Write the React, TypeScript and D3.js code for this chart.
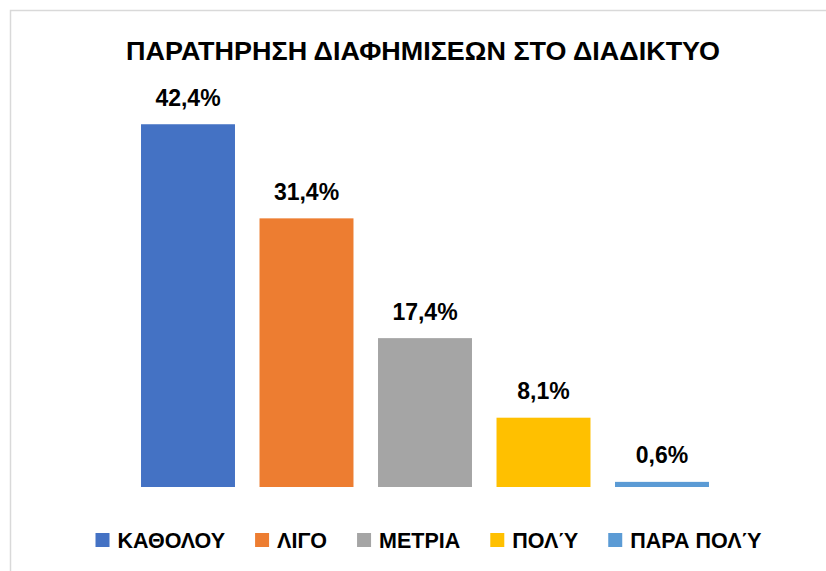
import React, { useEffect, useRef } from "react";
import * as d3 from "d3";

const categories = ["ΚΑΘΟΛΟΥ", "ΛΙΓΟ", "ΜΕΤΡΙΑ", "ΠΟΛΎ", "ΠΑΡΑ ΠΟΛΎ"];
const values = [42.4, 31.4, 17.4, 8.1, 0.6];
const valueLabels = ["42,4%", "31,4%", "17,4%", "8,1%", "0,6%"];
const colors = ["#4472C4", "#ED7D31", "#A5A5A5", "#FFC000", "#5B9BD5"];
const title = "ΠΑΡΑΤΗΡΗΣΗ ΔΙΑΦΗΜΙΣΕΩΝ ΣΤΟ ΔΙΑΔΙΚΤΥΟ";

const W = 826;
const H = 571;
const FONT = "'Liberation Sans', Arial, sans-serif";

export default function App() {
  const ref = useRef<SVGSVGElement>(null);

  useEffect(() => {
    const svg = d3.select(ref.current);
    svg.selectAll("*").remove();

    svg.append("rect").attr("width", W).attr("height", H).attr("fill", "#fff");
    svg
      .append("rect")
      .attr("x", 10.5)
      .attr("y", 10.5)
      .attr("width", W + 50)
      .attr("height", H + 50)
      .attr("fill", "none")
      .attr("stroke", "#d9d9d9")
      .attr("stroke-width", 1.5);

    svg
      .append("text")
      .attr("x", 423)
      .attr("y", 60)
      .attr("text-anchor", "middle")
      .attr("font-family", FONT)
      .attr("font-weight", "bold")
      .attr("font-size", 26)
      .attr("textLength", 594)
      .attr("lengthAdjust", "spacingAndGlyphs")
      .attr("fill", "#000")
      .text(title);

    const x = d3
      .scaleBand<string>()
      .domain(categories)
      .range([128.75, 721.25])
      .paddingInner(0.207)
      .paddingOuter(0.1035);
    const y = d3.scaleLinear().domain([0, 45]).range([487, 102]);

    const g = svg.append("g");
    g.selectAll("rect.bar")
      .data(values)
      .join("rect")
      .attr("class", "bar")
      .attr("x", (_, i) => x(categories[i])!)
      .attr("width", x.bandwidth())
      .attr("y", (d) => y(d))
      .attr("height", (d) => y(0) - y(d))
      .attr("fill", (_, i) => colors[i]);

    g.selectAll("text.lbl")
      .data(values)
      .join("text")
      .attr("class", "lbl")
      .attr("x", (_, i) => x(categories[i])! + x.bandwidth() / 2)
      .attr("y", (d) => y(d) - 18.5)
      .attr("text-anchor", "middle")
      .attr("font-family", FONT)
      .attr("font-weight", "bold")
      .attr("font-size", 23)
      .attr("fill", "#000")
      .text((_, i) => valueLabels[i]);

    // legend
    const lg = svg.append("g");
    const sw = 14;
    const gapText = 8;
    const gapItem = 30;
    const items = categories.map((c, i) => {
      const t = lg
        .append("text")
        .attr("font-family", FONT)
        .attr("font-weight", "bold")
        .attr("font-size", 21.5)
        .attr("fill", "#000")
        .attr("y", 547.5)
        .text(c);
      const w = (t.node() as SVGTextElement).getComputedTextLength();
      return { t, w, i };
    });
    const total =
      items.reduce((s, it) => s + sw + gapText + it.w, 0) +
      gapItem * (items.length - 1);
    let cx = 428.5 - total / 2;
    items.forEach((it) => {
      lg.append("rect")
        .attr("x", cx)
        .attr("y", 533)
        .attr("width", sw)
        .attr("height", sw)
        .attr("fill", colors[it.i]);
      it.t.attr("x", cx + sw + gapText);
      cx += sw + gapText + it.w + gapItem;
    });
  }, []);

  return (
    <svg
      ref={ref}
      width={W}
      height={H}
      style={{ position: "absolute", left: 0, top: 0, display: "block" }}
    />
  );
}
